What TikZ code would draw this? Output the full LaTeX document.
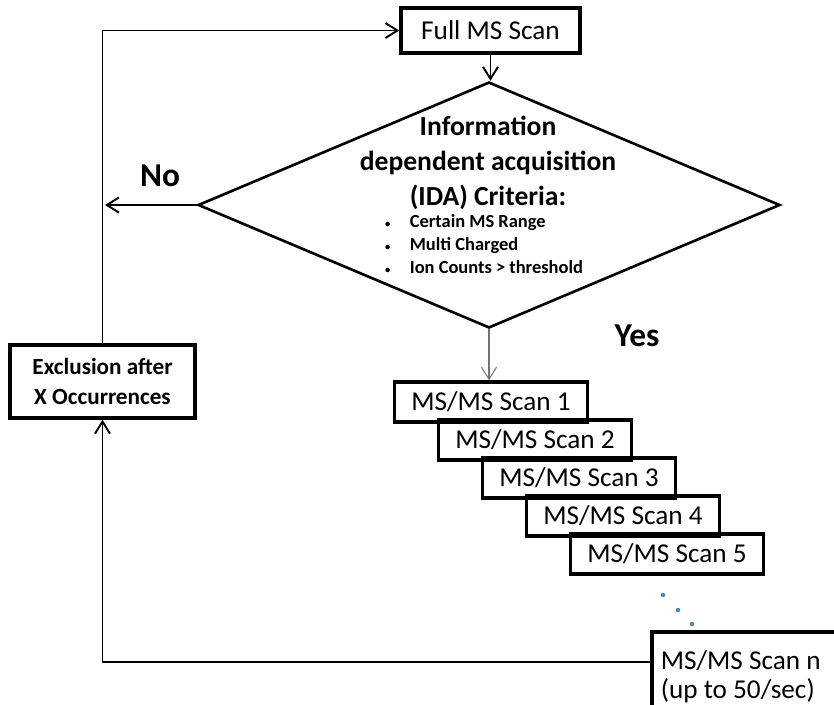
\documentclass[tikz,border=0pt]{standalone}
\usepackage{fontspec}
\setmainfont{Carlito}
\usetikzlibrary{shapes.geometric, arrows.meta}
\definecolor{dotblue}{RGB}{79,129,189}
\newcommand{\crititem}{{\fontsize{6}{6}\selectfont\textbullet}\hspace{3.9mm}}
\tikzset{box/.style={draw,line width=2pt,minimum width=3.86cm,minimum height=0.8cm,inner sep=0pt,font=\fontsize{15.5}{18}\selectfont},
         line/.style={line width=1.1pt},
         arr/.style={line,-{Straight Barb[length=2.4mm,width=3mm]}},
         thinarr/.style={draw=black!55,line width=0.6pt,-{Straight Barb[length=2.4mm,width=3mm]}},
         bigtext/.style={font=\fontsize{19}{22}\selectfont\bfseries},
        }

\begin{document}
\begin{tikzpicture}
        \useasboundingbox (0,0) rectangle (16.68,-14.08);
        \node[box,minimum width=3.58cm,minimum height=0.9cm](full)at(9.81,-0.61){Full MS Scan};
        \node[diamond,draw,line width=1.5pt,minimum width=11.64cm,minimum height=4.92cm,inner sep=0pt](ida)at(9.78,-4.1){};
        \node[align=center,font=\fontsize{15.7}{20}\selectfont\bfseries](idat)at(9.76,-3.26){Information\\dependent acquisition\\(IDA) Criteria:};
        \node[align=left,font=\fontsize{10.5}{13}\selectfont\bfseries](crit)at(9.68,-4.88){\crititem Certain MS Range\\\crititem Multi Charged\\\crititem Ion Counts > threshold};
        \node[bigtext](no)at(3.2,-3.52){No};
        \node[bigtext](yes)at(12.74,-6.72){Yes};
        \node[box,minimum width=3.7cm,minimum height=1.46cm,align=center,font=\fontsize{13.2}{17}\selectfont\bfseries](excl)at(2.05,-7.63){Exclusion after\\X Occurrences};
        \foreach \i in {1,...,5}
            \node[box](s\i)at({9.82+0.88*(\i-1)},{-8.04-0.76*(\i-1)}){MS/MS Scan \i};
        \node[box,anchor=north west,minimum height=1.8cm,text width=3.8cm,align=flush left,inner xsep=1.8mm,inner ysep=2.6mm,font=\fontsize{15.5}{16.5}\selectfont](sn)at(13.0,-12.6){MS/MS Scan n\\(up to 50/sec)};
        \coordinate(noend)at(2.1,-4.1);
        \fill[dotblue](13.26,-11.9)circle(0.045) (13.56,-12.2)circle(0.045) (13.84,-12.48)circle(0.045);
        \draw[arr](full.south)--(full.south|-ida.north);
        \draw[thinarr](ida.south)--(ida.south|-s1.north);
        \draw[arr](ida.west)--(noend);
        \draw[arr](excl.north)|-(full.west);
        \draw[arr]([yshift=-6.4mm]sn.north west)-|(excl.south);
    \end{tikzpicture}
\end{document}
